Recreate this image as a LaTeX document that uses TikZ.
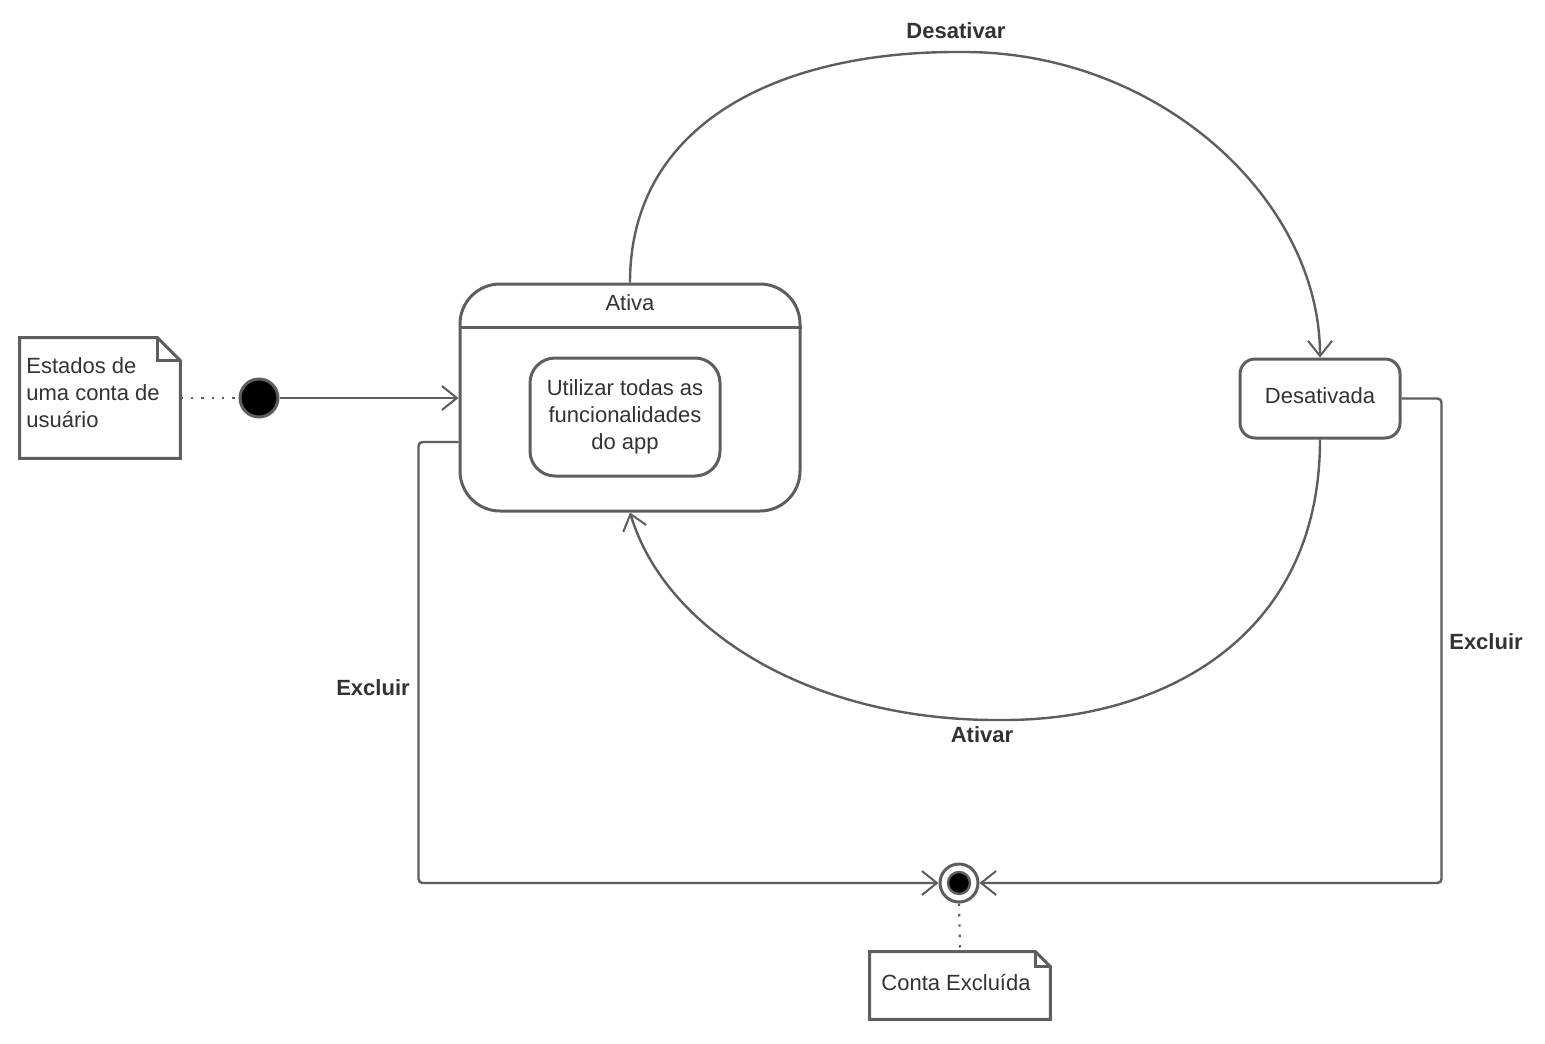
\documentclass[tikz,border=0pt]{standalone}
\usepackage{fontspec}
\setmainfont{Liberation Sans}
\usetikzlibrary{arrows.meta}
\definecolor{ln}{HTML}{5E5E5E}
\definecolor{tx}{HTML}{333333}
\begin{document}
\begin{tikzpicture}[x=0.5pt,y=-0.5pt,
  every node/.style={text=tx,font=\fontsize{11}{13.5}\selectfont},
  conn/.style={draw=ln,line width=1.2pt,rounded corners=2pt,
    -{Straight Barb[length=7.5pt,width=12pt,line width=1pt]}},
  lbl/.style={font=\bfseries\fontsize{11}{13}\selectfont},
  statebox/.style={draw=ln,line width=1.5pt,inner sep=0pt},
  notebox/.style={draw=ln,line width=1.5pt},
  dots/.style={draw=ln,line width=1.1pt,dash pattern=on 1.2pt off 4pt}
]
\useasboundingbox[fill=white] (0,0) rectangle (1545,1043);

% note 1
\node[minimum width=80pt,minimum height=60pt,inner sep=0pt] (note1) at (100,398) {};
\draw[notebox] (note1.north west) -- ([xshift=-11.5pt]note1.north east) -- ([yshift=-11.5pt]note1.north east) -- (note1.south east) -- (note1.south west) -- cycle;
\draw[notebox] ([xshift=-11.5pt]note1.north east) -- ([xshift=-11.5pt,yshift=-11.5pt]note1.north east) -- ([yshift=-11.5pt]note1.north east);
\node[anchor=west,align=left,inner sep=0pt] (note1text) at (26,393) {Estados de\\uma conta de\\usuário};

% initial state
\node[circle,fill=black,draw=ln,line width=1.5pt,minimum size=19pt,inner sep=0pt] (init) at (259,398) {};

% Ativa composite state
\node[statebox,rounded corners=20pt,minimum width=170pt,minimum height=113.5pt] (ativa) at (630,397.5) {};
\draw[draw=ln,line width=1.5pt] (ativa.west |- 0,327) -- (ativa.east |- 0,327);
\node (ativatitle) at (630,303) {Ativa};
\node[statebox,rounded corners=12.5pt,minimum width=95pt,minimum height=59pt,align=center] (usar) at (625,417) {Utilizar todas as\\funcionalidades\\do app};

% Desativada
\node[statebox,rounded corners=7.5pt,minimum width=80pt,minimum height=39.5pt] (desat) at (1320,398.5) {};
\node (desattext) at (1320,396) {Desativada};

% final state
\node[circle,draw=ln,line width=1.5pt,minimum size=19pt,inner sep=0pt] (final) at (959,883) {};
\node[circle,fill=black,draw=ln,line width=1.2pt,minimum size=11pt,inner sep=0pt] (finalin) at (959,883) {};

% note 2
\node[minimum width=90pt,minimum height=33.5pt,inner sep=0pt] (note2) at (960,985.5) {};
\draw[notebox] (note2.north west) -- ([xshift=-7.5pt]note2.north east) -- ([yshift=-7.5pt]note2.north east) -- (note2.south east) -- (note2.south west) -- cycle;
\draw[notebox] ([xshift=-7.5pt]note2.north east) -- ([xshift=-7.5pt,yshift=-7.5pt]note2.north east) -- ([yshift=-7.5pt]note2.north east);
\node (note2text) at (956,982) {Conta Excluída};

% connectors
\draw[dots] (note1.east) -- (init.west);
\draw[dots] (final.south) -- (note2.north);
\draw[conn] (init) -- (ativa.west |- init);

\draw[conn] (ativa.north) .. controls +(0,-160) and (780,52) .. (960,52)
  .. controls (1160,52) and (1320,200) .. (desat.north);
\draw[conn] (desat.south) .. controls +(0,200) and (1160,720) .. (1000,720)
  .. controls (810,720) and (665,630) .. (ativa.south);

\draw[conn] ([yshift=-22.25pt]ativa.west) -- ++(-40,0) |- (final);
\draw[conn] (desat.east) -- ++(40,0) |- (final);

% labels
\node[lbl] (l1) at (956,31) {Desativar};
\node[lbl] (l2) at (982,735) {Ativar};
\node[lbl] (l3) at (373,688) {Excluir};
\node[lbl] (l4) at (1486,642) {Excluir};
\end{tikzpicture}
\end{document}
